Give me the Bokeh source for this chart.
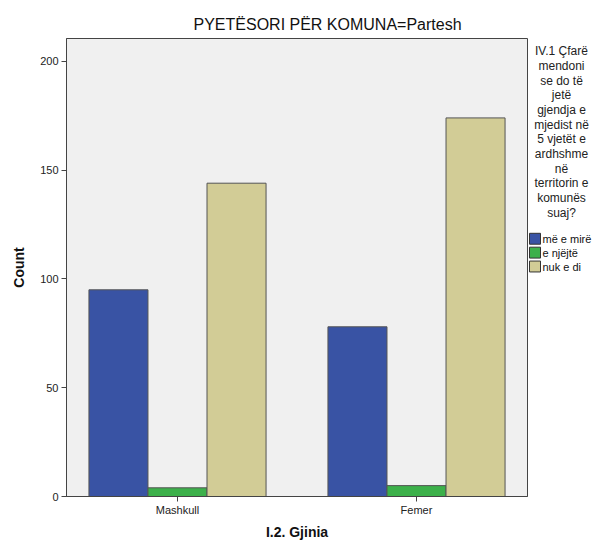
from bokeh.plotting import figure
from bokeh.layouts import row
from bokeh.models import Range1d, FixedTicker, Label, ColumnDataSource, BoxAnnotation
from bokeh.embed import file_html
from bokeh.resources import INLINE

categories = ["Mashkull", "Femer"]
series = ["më e mirë", "e njëjtë", "nuk e di"]
values_me_mire = [95, 78]
values_e_njejte = [4, 5]
values_nuk_e_di = [144, 174]
colors = ["#3953a4", "#3cb04a", "#d2cc96"]
y_ticks = [0, 50, 100, 150, 200]
title_text = "PYETËSORI PËR KOMUNA=Partesh"
legend_title = ["IV.1 Çfarë", "mendoni", "se do të", "jetë", "gjendja e", "mjedist në",
                "5 vjetët e", "ardhshme", "në", "territorin e", "komunës", "suaj?"]

FONT = "Liberation Sans"
W_MAIN, W_LEG, H = 528, 65, 542
FRAME_TOP, FRAME_BOTTOM = 38, 500

p = figure(width=W_MAIN, height=H, output_backend="svg", toolbar_location=None,
           x_range=Range1d(-0.4644, 1.4644), y_range=Range1d(0, 210.5),
           min_border_left=66, min_border_right=1, min_border_top=FRAME_TOP,
           min_border_bottom=H - FRAME_BOTTOM)

p.background_fill_color = "#f0f0f0"
p.border_fill_color = "white"
p.outline_line_color = "#444444"
p.outline_line_width = 1
p.grid.visible = False

p.title.text = title_text
p.title.text_font = FONT
p.title.text_font_size = "16px"
p.title.text_font_style = "normal"
p.title.text_color = "#111111"
p.title.align = "left"
p.title.offset = 127
p.title.standoff = 12

bw = 0.247
all_vals = [values_me_mire, values_e_njejte, values_nuk_e_di]
for j, vals in enumerate(all_vals):
    xs = [i + (j - 1) * bw for i in range(len(categories))]
    src = ColumnDataSource(dict(x=xs, top=vals))
    p.vbar(x="x", top="top", bottom=0, width=bw, source=src,
           fill_color=colors[j], line_color="#555555", line_width=1)

p.xaxis.ticker = FixedTicker(ticks=list(range(len(categories))))
p.xaxis.major_label_overrides = {i: c for i, c in enumerate(categories)}
p.yaxis.ticker = FixedTicker(ticks=y_ticks)
for ax in (p.xaxis[0], p.yaxis[0]):
    ax.axis_line_color = "#444444"
    ax.major_tick_line_color = "#444444"
    ax.minor_tick_line_color = None
    ax.major_tick_in = 0
    ax.major_tick_out = 5
    ax.major_label_text_font = FONT
    ax.major_label_text_font_size = "11px"
    ax.major_label_text_color = "#222222"
    ax.axis_label_text_font = FONT
    ax.axis_label_text_font_style = "bold"
    ax.axis_label_text_font_size = "14px"
    ax.axis_label_text_color = "#111111"
p.xaxis.axis_label = "I.2. Gjinia"
p.yaxis.axis_label = "Count"
p.xaxis.major_label_standoff = 2
p.yaxis.major_label_standoff = 3
p.xaxis.axis_label_standoff = 5
p.yaxis.axis_label_standoff = 10

# Legend panel: its frame is aligned with the main frame by the row layout,
# so its ranges are expressed in page pixels (x 528..593, y 38..500 top-down)
leg = figure(width=W_LEG, height=H, output_backend="svg", toolbar_location=None,
             x_range=Range1d(528, 528 + W_LEG), y_range=Range1d(FRAME_BOTTOM, FRAME_TOP),
             x_axis_location=None, y_axis_location=None,
             min_border_left=0, min_border_right=0, min_border_top=FRAME_TOP,
             min_border_bottom=H - FRAME_BOTTOM)
leg.outline_line_color = None
leg.grid.visible = False
leg.background_fill_color = "white"
leg.border_fill_color = "white"

for k, line in enumerate(legend_title):
    leg.add_layout(Label(x=561, y=51 + k * 14.8, text=line, text_font=FONT,
                         text_font_size="12px", text_align="center",
                         text_baseline="middle", text_color="#222222"))

for j, name in enumerate(series):
    top = 234.5 + j * 14
    leg.add_layout(BoxAnnotation(left=529, right=540, top=top, bottom=top + 11,
                                 fill_color=colors[j], fill_alpha=1,
                                 line_color="#333333", line_width=1, line_alpha=1))
    leg.add_layout(Label(x=542, y=top + 5.5, text=name,
                         text_font=FONT, text_font_size="11px", text_align="left",
                         text_baseline="middle", text_color="#111111"))

layout = row(p, leg, spacing=0)
open("out.html", "w").write(file_html(layout, INLINE))
